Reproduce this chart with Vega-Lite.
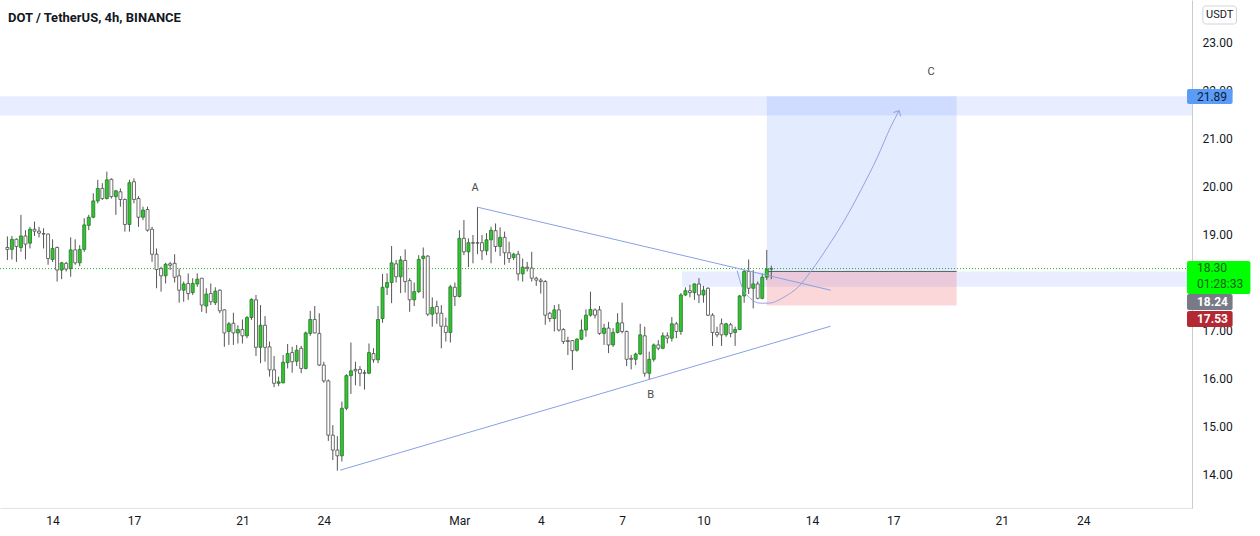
{
  "$schema": "https://vega.github.io/schema/vega-lite/v6.json",
  "width": 1192,
  "height": 508,
  "autosize": {"type": "none"},
  "padding": {"left": 0, "top": 0, "right": 68, "bottom": 28},
  "background": "white",
  "title": {"text": "DOT / TetherUS, 4h, BINANCE", "anchor": "start", "frame": "group", "orient": "top", "offset": -17, "baseline": "middle", "dx": 8, "dy": 14, "fontSize": 13, "fontWeight": "bold", "font": "Roboto", "color": "#131722"},
  "config": {
    "view": {"stroke": null},
    "font": "Roboto",
    "axis": {"grid": false, "ticks": false, "labelFont": "Roboto", "labelFontSize": 12, "labelColor": "#131722", "titleOpacity": 0}
  },
  "encoding": {
    "x": {
      "type": "temporal",
      "scale": {"type": "utc", "domain": [{"year": 2021, "month": 2, "date": 12, "hours": 5, "minutes": 53, "utc": true}, {"year": 2021, "month": 3, "date": 27, "hours": 19, "minutes": 53, "utc": true}]},
      "axis": {
        "title": null, "orient": "bottom", "domain": true, "domainColor": "#e0e3eb", "labelPadding": 7, "labelOverlap": false, "labelFlush": false,
        "values": [
          {"year": 2021, "month": 2, "date": 14, "utc": true},
          {"year": 2021, "month": 2, "date": 17, "utc": true},
          {"year": 2021, "month": 2, "date": 21, "utc": true},
          {"year": 2021, "month": 2, "date": 24, "utc": true},
          {"year": 2021, "month": 3, "date": 1, "utc": true},
          {"year": 2021, "month": 3, "date": 4, "utc": true},
          {"year": 2021, "month": 3, "date": 7, "utc": true},
          {"year": 2021, "month": 3, "date": 10, "utc": true},
          {"year": 2021, "month": 3, "date": 14, "utc": true},
          {"year": 2021, "month": 3, "date": 17, "utc": true},
          {"year": 2021, "month": 3, "date": 21, "utc": true},
          {"year": 2021, "month": 3, "date": 24, "utc": true}
        ],
        "labelExpr": "utcdate(datum.value) == 1 ? 'Mar' : '' + utcdate(datum.value)"
      }
    },
    "y": {
      "type": "quantitative",
      "scale": {"domain": [13.3125, 23.8958], "nice": false, "zero": false},
      "axis": {"title": null, "orient": "right", "domain": true, "domainColor": "#c9cbd1", "values": [14, 15, 16, 17, 19, 20, 21, 22, 23], "format": ".2f", "labelAlign": "left", "labelPadding": 10, "labelBaseline": "middle"}
    }
  },
  "datasets": {
    "candles": [
      {"t":"2021-02-12T08:00:00Z","o":18.74,"h":18.97,"l":18.48,"c":18.70},
      {"t":"2021-02-12T12:00:00Z","o":18.70,"h":18.98,"l":18.49,"c":18.91},
      {"t":"2021-02-12T16:00:00Z","o":18.91,"h":18.93,"l":18.44,"c":18.76},
      {"t":"2021-02-12T20:00:00Z","o":18.74,"h":19.42,"l":18.65,"c":18.98},
      {"t":"2021-02-13T00:00:00Z","o":18.98,"h":19.10,"l":18.49,"c":18.81},
      {"t":"2021-02-13T04:00:00Z","o":18.83,"h":19.17,"l":18.72,"c":19.12},
      {"t":"2021-02-13T08:00:00Z","o":19.12,"h":19.28,"l":18.98,"c":19.08},
      {"t":"2021-02-13T12:00:00Z","o":19.08,"h":19.17,"l":18.95,"c":19.04},
      {"t":"2021-02-13T16:00:00Z","o":19.03,"h":19.14,"l":18.72,"c":19.02},
      {"t":"2021-02-13T20:00:00Z","o":19.02,"h":19.03,"l":18.38,"c":18.51},
      {"t":"2021-02-14T00:00:00Z","o":18.49,"h":18.91,"l":18.44,"c":18.72},
      {"t":"2021-02-14T04:00:00Z","o":18.74,"h":18.76,"l":18.03,"c":18.27},
      {"t":"2021-02-14T08:00:00Z","o":18.27,"h":18.44,"l":18.08,"c":18.42},
      {"t":"2021-02-14T12:00:00Z","o":18.41,"h":18.44,"l":18.24,"c":18.29},
      {"t":"2021-02-14T16:00:00Z","o":18.30,"h":18.95,"l":18.13,"c":18.69},
      {"t":"2021-02-14T20:00:00Z","o":18.69,"h":18.91,"l":18.38,"c":18.42},
      {"t":"2021-02-15T00:00:00Z","o":18.42,"h":18.79,"l":18.35,"c":18.70},
      {"t":"2021-02-15T04:00:00Z","o":18.70,"h":19.35,"l":18.65,"c":19.21},
      {"t":"2021-02-15T08:00:00Z","o":19.20,"h":19.42,"l":19.10,"c":19.37},
      {"t":"2021-02-15T12:00:00Z","o":19.37,"h":19.87,"l":19.35,"c":19.71},
      {"t":"2021-02-15T16:00:00Z","o":19.71,"h":20.15,"l":19.66,"c":19.97},
      {"t":"2021-02-15T20:00:00Z","o":19.97,"h":20.08,"l":19.73,"c":19.76},
      {"t":"2021-02-16T00:00:00Z","o":19.76,"h":20.32,"l":19.74,"c":20.15},
      {"t":"2021-02-16T04:00:00Z","o":20.16,"h":20.18,"l":19.76,"c":19.80},
      {"t":"2021-02-16T08:00:00Z","o":19.80,"h":19.94,"l":19.42,"c":19.92},
      {"t":"2021-02-16T12:00:00Z","o":19.90,"h":19.97,"l":19.59,"c":19.74},
      {"t":"2021-02-16T16:00:00Z","o":19.74,"h":19.76,"l":19.07,"c":19.22},
      {"t":"2021-02-16T20:00:00Z","o":19.22,"h":20.15,"l":19.07,"c":20.09},
      {"t":"2021-02-17T00:00:00Z","o":20.11,"h":20.18,"l":19.66,"c":19.74},
      {"t":"2021-02-17T04:00:00Z","o":19.76,"h":19.81,"l":19.17,"c":19.37},
      {"t":"2021-02-17T08:00:00Z","o":19.37,"h":19.59,"l":19.31,"c":19.52},
      {"t":"2021-02-17T12:00:00Z","o":19.53,"h":19.59,"l":19.07,"c":19.10},
      {"t":"2021-02-17T16:00:00Z","o":19.12,"h":19.17,"l":18.44,"c":18.60},
      {"t":"2021-02-17T20:00:00Z","o":18.60,"h":18.72,"l":17.89,"c":18.28},
      {"t":"2021-02-18T00:00:00Z","o":18.30,"h":18.34,"l":17.82,"c":18.15},
      {"t":"2021-02-18T04:00:00Z","o":18.15,"h":18.42,"l":17.99,"c":18.39},
      {"t":"2021-02-18T08:00:00Z","o":18.40,"h":18.44,"l":18.27,"c":18.37},
      {"t":"2021-02-18T12:00:00Z","o":18.41,"h":18.60,"l":18.01,"c":18.12},
      {"t":"2021-02-18T16:00:00Z","o":18.15,"h":18.30,"l":17.59,"c":17.85},
      {"t":"2021-02-18T20:00:00Z","o":17.85,"h":18.03,"l":17.61,"c":17.98},
      {"t":"2021-02-19T00:00:00Z","o":17.99,"h":18.20,"l":17.65,"c":17.78},
      {"t":"2021-02-19T04:00:00Z","o":17.80,"h":18.10,"l":17.75,"c":17.99},
      {"t":"2021-02-19T08:00:00Z","o":17.98,"h":18.20,"l":17.92,"c":18.08},
      {"t":"2021-02-19T12:00:00Z","o":18.10,"h":18.10,"l":17.40,"c":17.54},
      {"t":"2021-02-19T16:00:00Z","o":17.52,"h":17.89,"l":17.37,"c":17.77},
      {"t":"2021-02-19T20:00:00Z","o":17.78,"h":17.99,"l":17.54,"c":17.61},
      {"t":"2021-02-20T00:00:00Z","o":17.59,"h":17.91,"l":17.54,"c":17.83},
      {"t":"2021-02-20T04:00:00Z","o":17.85,"h":17.87,"l":17.37,"c":17.42},
      {"t":"2021-02-20T08:00:00Z","o":17.44,"h":17.45,"l":16.67,"c":16.96},
      {"t":"2021-02-20T12:00:00Z","o":16.99,"h":17.19,"l":16.71,"c":17.15},
      {"t":"2021-02-20T16:00:00Z","o":17.16,"h":17.38,"l":16.71,"c":16.96},
      {"t":"2021-02-20T20:00:00Z","o":16.96,"h":17.12,"l":16.74,"c":17.03},
      {"t":"2021-02-21T00:00:00Z","o":17.03,"h":17.24,"l":16.74,"c":16.90},
      {"t":"2021-02-21T04:00:00Z","o":16.90,"h":17.31,"l":16.85,"c":17.28},
      {"t":"2021-02-21T08:00:00Z","o":17.28,"h":17.68,"l":17.23,"c":17.66},
      {"t":"2021-02-21T12:00:00Z","o":17.65,"h":17.75,"l":16.48,"c":16.66},
      {"t":"2021-02-21T16:00:00Z","o":16.66,"h":17.54,"l":16.33,"c":17.12},
      {"t":"2021-02-21T20:00:00Z","o":17.12,"h":17.31,"l":16.36,"c":16.66},
      {"t":"2021-02-22T00:00:00Z","o":16.67,"h":16.78,"l":16.05,"c":16.19},
      {"t":"2021-02-22T04:00:00Z","o":16.19,"h":16.48,"l":15.83,"c":15.91},
      {"t":"2021-02-22T08:00:00Z","o":15.91,"h":16.05,"l":15.85,"c":15.94},
      {"t":"2021-02-22T12:00:00Z","o":15.92,"h":16.50,"l":15.91,"c":16.35},
      {"t":"2021-02-22T16:00:00Z","o":16.34,"h":16.73,"l":16.22,"c":16.53},
      {"t":"2021-02-22T20:00:00Z","o":16.55,"h":16.67,"l":16.13,"c":16.36},
      {"t":"2021-02-23T00:00:00Z","o":16.37,"h":16.71,"l":16.27,"c":16.60},
      {"t":"2021-02-23T04:00:00Z","o":16.64,"h":16.69,"l":16.12,"c":16.22},
      {"t":"2021-02-23T08:00:00Z","o":16.22,"h":16.99,"l":16.20,"c":16.96},
      {"t":"2021-02-23T12:00:00Z","o":16.95,"h":17.42,"l":16.90,"c":17.24},
      {"t":"2021-02-23T16:00:00Z","o":17.24,"h":17.52,"l":16.95,"c":16.96},
      {"t":"2021-02-23T20:00:00Z","o":16.95,"h":17.37,"l":16.27,"c":16.29},
      {"t":"2021-02-24T00:00:00Z","o":16.29,"h":16.36,"l":15.92,"c":15.96},
      {"t":"2021-02-24T04:00:00Z","o":15.96,"h":15.99,"l":14.71,"c":14.83},
      {"t":"2021-02-24T08:00:00Z","o":14.83,"h":15.04,"l":14.31,"c":14.52},
      {"t":"2021-02-24T12:00:00Z","o":14.52,"h":14.81,"l":14.09,"c":14.40},
      {"t":"2021-02-24T16:00:00Z","o":14.40,"h":15.53,"l":14.28,"c":15.39},
      {"t":"2021-02-24T20:00:00Z","o":15.39,"h":16.10,"l":15.35,"c":16.07},
      {"t":"2021-02-25T00:00:00Z","o":16.07,"h":16.76,"l":15.69,"c":16.17},
      {"t":"2021-02-25T04:00:00Z","o":16.20,"h":16.36,"l":15.87,"c":16.17},
      {"t":"2021-02-25T08:00:00Z","o":16.20,"h":16.27,"l":15.85,"c":16.12},
      {"t":"2021-02-25T12:00:00Z","o":16.13,"h":16.19,"l":15.78,"c":16.12},
      {"t":"2021-02-25T16:00:00Z","o":16.12,"h":16.74,"l":16.10,"c":16.55},
      {"t":"2021-02-25T20:00:00Z","o":16.53,"h":16.64,"l":16.34,"c":16.40},
      {"t":"2021-02-26T00:00:00Z","o":16.40,"h":17.52,"l":16.33,"c":17.24},
      {"t":"2021-02-26T04:00:00Z","o":17.26,"h":18.19,"l":17.17,"c":17.91},
      {"t":"2021-02-26T08:00:00Z","o":17.91,"h":18.20,"l":17.75,"c":18.01},
      {"t":"2021-02-26T12:00:00Z","o":18.01,"h":18.77,"l":17.58,"c":18.42},
      {"t":"2021-02-26T16:00:00Z","o":18.40,"h":18.48,"l":18.01,"c":18.13},
      {"t":"2021-02-26T20:00:00Z","o":18.13,"h":18.56,"l":17.79,"c":18.48},
      {"t":"2021-02-27T00:00:00Z","o":18.47,"h":18.70,"l":17.80,"c":18.03},
      {"t":"2021-02-27T04:00:00Z","o":18.05,"h":18.10,"l":17.40,"c":17.65},
      {"t":"2021-02-27T08:00:00Z","o":17.65,"h":18.01,"l":17.52,"c":17.82},
      {"t":"2021-02-27T12:00:00Z","o":17.82,"h":18.58,"l":17.79,"c":18.49},
      {"t":"2021-02-27T16:00:00Z","o":18.51,"h":18.74,"l":17.68,"c":18.56},
      {"t":"2021-02-27T20:00:00Z","o":18.56,"h":18.58,"l":17.31,"c":17.35},
      {"t":"2021-02-28T00:00:00Z","o":17.35,"h":17.70,"l":17.09,"c":17.49},
      {"t":"2021-02-28T04:00:00Z","o":17.51,"h":17.63,"l":17.15,"c":17.37},
      {"t":"2021-02-28T08:00:00Z","o":17.37,"h":17.54,"l":16.64,"c":17.10},
      {"t":"2021-02-28T12:00:00Z","o":17.10,"h":17.28,"l":16.78,"c":16.97},
      {"t":"2021-02-28T16:00:00Z","o":16.97,"h":17.96,"l":16.76,"c":17.92},
      {"t":"2021-02-28T20:00:00Z","o":17.91,"h":18.01,"l":17.52,"c":17.72},
      {"t":"2021-03-01T00:00:00Z","o":17.72,"h":19.10,"l":17.70,"c":18.93},
      {"t":"2021-03-01T04:00:00Z","o":18.93,"h":19.31,"l":18.58,"c":18.65},
      {"t":"2021-03-01T08:00:00Z","o":18.65,"h":18.93,"l":18.33,"c":18.84},
      {"t":"2021-03-01T12:00:00Z","o":18.84,"h":19.00,"l":18.41,"c":18.83},
      {"t":"2021-03-01T16:00:00Z","o":18.84,"h":19.58,"l":18.60,"c":18.83},
      {"t":"2021-03-01T20:00:00Z","o":18.84,"h":19.00,"l":18.48,"c":18.67},
      {"t":"2021-03-02T00:00:00Z","o":18.67,"h":19.04,"l":18.58,"c":18.90},
      {"t":"2021-03-02T04:00:00Z","o":18.90,"h":19.17,"l":18.41,"c":19.10},
      {"t":"2021-03-02T08:00:00Z","o":19.09,"h":19.24,"l":18.65,"c":18.76},
      {"t":"2021-03-02T12:00:00Z","o":18.76,"h":19.16,"l":18.56,"c":18.95},
      {"t":"2021-03-02T16:00:00Z","o":18.95,"h":19.07,"l":18.38,"c":18.63},
      {"t":"2021-03-02T20:00:00Z","o":18.63,"h":18.86,"l":18.42,"c":18.51},
      {"t":"2021-03-03T00:00:00Z","o":18.53,"h":18.63,"l":18.48,"c":18.60},
      {"t":"2021-03-03T04:00:00Z","o":18.60,"h":18.67,"l":18.05,"c":18.19},
      {"t":"2021-03-03T08:00:00Z","o":18.19,"h":18.51,"l":18.03,"c":18.33},
      {"t":"2021-03-03T12:00:00Z","o":18.33,"h":18.44,"l":18.24,"c":18.31},
      {"t":"2021-03-03T16:00:00Z","o":18.31,"h":18.65,"l":18.03,"c":18.10},
      {"t":"2021-03-03T20:00:00Z","o":18.10,"h":18.13,"l":17.94,"c":18.06},
      {"t":"2021-03-04T00:00:00Z","o":18.06,"h":18.10,"l":17.78,"c":18.03},
      {"t":"2021-03-04T04:00:00Z","o":18.03,"h":18.06,"l":17.13,"c":17.33},
      {"t":"2021-03-04T08:00:00Z","o":17.37,"h":17.40,"l":17.19,"c":17.26},
      {"t":"2021-03-04T12:00:00Z","o":17.26,"h":17.54,"l":16.99,"c":17.44},
      {"t":"2021-03-04T16:00:00Z","o":17.44,"h":17.56,"l":16.99,"c":17.02},
      {"t":"2021-03-04T20:00:00Z","o":17.03,"h":17.06,"l":16.73,"c":16.78},
      {"t":"2021-03-05T00:00:00Z","o":16.80,"h":16.88,"l":16.50,"c":16.78},
      {"t":"2021-03-05T04:00:00Z","o":16.80,"h":16.81,"l":16.19,"c":16.59},
      {"t":"2021-03-05T08:00:00Z","o":16.60,"h":16.85,"l":16.57,"c":16.83},
      {"t":"2021-03-05T12:00:00Z","o":16.83,"h":17.24,"l":16.81,"c":17.02},
      {"t":"2021-03-05T16:00:00Z","o":17.02,"h":17.45,"l":16.88,"c":17.33},
      {"t":"2021-03-05T20:00:00Z","o":17.33,"h":17.82,"l":17.30,"c":17.45},
      {"t":"2021-03-06T00:00:00Z","o":17.44,"h":17.47,"l":17.26,"c":17.33},
      {"t":"2021-03-06T04:00:00Z","o":17.44,"h":17.52,"l":16.92,"c":16.95},
      {"t":"2021-03-06T08:00:00Z","o":16.95,"h":17.15,"l":16.71,"c":17.06},
      {"t":"2021-03-06T12:00:00Z","o":17.06,"h":17.19,"l":16.54,"c":16.71},
      {"t":"2021-03-06T16:00:00Z","o":16.71,"h":17.06,"l":16.67,"c":16.97},
      {"t":"2021-03-06T20:00:00Z","o":16.97,"h":17.37,"l":16.95,"c":17.17},
      {"t":"2021-03-07T00:00:00Z","o":17.17,"h":17.59,"l":16.95,"c":16.99},
      {"t":"2021-03-07T04:00:00Z","o":16.99,"h":17.01,"l":16.27,"c":16.41},
      {"t":"2021-03-07T08:00:00Z","o":16.43,"h":16.50,"l":16.20,"c":16.41},
      {"t":"2021-03-07T12:00:00Z","o":16.41,"h":16.55,"l":16.29,"c":16.52},
      {"t":"2021-03-07T16:00:00Z","o":16.52,"h":17.15,"l":16.50,"c":16.92},
      {"t":"2021-03-07T20:00:00Z","o":16.90,"h":17.09,"l":16.05,"c":16.12},
      {"t":"2021-03-08T00:00:00Z","o":16.12,"h":16.57,"l":15.98,"c":16.41},
      {"t":"2021-03-08T04:00:00Z","o":16.41,"h":16.74,"l":16.36,"c":16.71},
      {"t":"2021-03-08T08:00:00Z","o":16.71,"h":16.81,"l":16.60,"c":16.64},
      {"t":"2021-03-08T12:00:00Z","o":16.64,"h":16.97,"l":16.62,"c":16.90},
      {"t":"2021-03-08T16:00:00Z","o":16.90,"h":16.97,"l":16.74,"c":16.85},
      {"t":"2021-03-08T20:00:00Z","o":16.85,"h":17.29,"l":16.78,"c":17.15},
      {"t":"2021-03-09T00:00:00Z","o":17.15,"h":17.19,"l":16.85,"c":16.99},
      {"t":"2021-03-09T04:00:00Z","o":16.99,"h":17.79,"l":16.92,"c":17.75},
      {"t":"2021-03-09T08:00:00Z","o":17.75,"h":17.91,"l":17.73,"c":17.84},
      {"t":"2021-03-09T12:00:00Z","o":17.84,"h":17.96,"l":17.70,"c":17.80},
      {"t":"2021-03-09T16:00:00Z","o":17.80,"h":17.99,"l":17.65,"c":17.98},
      {"t":"2021-03-09T20:00:00Z","o":17.98,"h":18.10,"l":17.58,"c":17.75},
      {"t":"2021-03-10T00:00:00Z","o":17.75,"h":17.94,"l":17.59,"c":17.85},
      {"t":"2021-03-10T04:00:00Z","o":17.89,"h":17.91,"l":17.31,"c":17.33},
      {"t":"2021-03-10T08:00:00Z","o":17.33,"h":17.37,"l":16.69,"c":16.97},
      {"t":"2021-03-10T12:00:00Z","o":16.97,"h":17.09,"l":16.87,"c":16.92},
      {"t":"2021-03-10T16:00:00Z","o":17.15,"h":17.26,"l":16.69,"c":16.92},
      {"t":"2021-03-10T20:00:00Z","o":16.92,"h":17.17,"l":16.88,"c":17.15},
      {"t":"2021-03-11T00:00:00Z","o":17.13,"h":17.17,"l":16.87,"c":16.95},
      {"t":"2021-03-11T04:00:00Z","o":16.97,"h":17.09,"l":16.69,"c":17.03},
      {"t":"2021-03-11T08:00:00Z","o":17.03,"h":17.75,"l":17.02,"c":17.73},
      {"t":"2021-03-11T12:00:00Z","o":17.73,"h":18.27,"l":17.59,"c":18.24},
      {"t":"2021-03-11T16:00:00Z","o":18.24,"h":18.49,"l":17.77,"c":17.89},
      {"t":"2021-03-11T20:00:00Z","o":17.89,"h":18.27,"l":17.47,"c":17.98},
      {"t":"2021-03-12T00:00:00Z","o":17.98,"h":18.03,"l":17.66,"c":17.68},
      {"t":"2021-03-12T04:00:00Z","o":17.68,"h":18.20,"l":17.66,"c":18.12},
      {"t":"2021-03-12T08:00:00Z","o":18.12,"h":18.69,"l":18.06,"c":18.29},
      {"t":"2021-03-12T12:00:00Z","o":18.29,"h":18.36,"l":18.08,"c":18.30}
    ],
    "trend": [
      {"id":"upper","t":"2021-03-01T16:00:00Z","p":19.58},
      {"id":"upper","t":"2021-03-14T16:30:00Z","p":17.85},
      {"id":"lower","t":"2021-02-24T14:24:00Z","p":14.10},
      {"id":"lower","t":"2021-03-14T16:30:00Z","p":17.10}
    ],
    "curve": [
      {"t":"2021-03-11T05:45:00Z","p":18.26},
      {"t":"2021-03-11T10:05:00Z","p":17.92},
      {"t":"2021-03-11T17:30:00Z","p":17.68},
      {"t":"2021-03-12T02:10:00Z","p":17.58},
      {"t":"2021-03-12T09:36:00Z","p":17.58},
      {"t":"2021-03-13T00:15:00Z","p":17.72},
      {"t":"2021-03-13T12:00:00Z","p":17.92},
      {"t":"2021-03-13T23:35:00Z","p":18.26},
      {"t":"2021-03-14T14:10:00Z","p":18.76},
      {"t":"2021-03-15T04:50:00Z","p":19.31},
      {"t":"2021-03-15T19:25:00Z","p":19.94},
      {"t":"2021-03-16T10:05:00Z","p":20.63},
      {"t":"2021-03-16T21:50:00Z","p":21.26},
      {"t":"2021-03-17T05:05:00Z","p":21.59}
    ],
    "points": [
      {"t":"2021-03-01T13:50:00Z","p":19.98,"label":"A"},
      {"t":"2021-03-08T01:10:00Z","p":15.67,"label":"B"},
      {"t":"2021-03-18T09:29:00Z","p":22.40,"label":"C"}
    ]
  },
  "layer": [
    {
      "data": {"values": [{}]},
      "mark": {"type": "rect", "fill": "#2962ff", "opacity": 0.11},
      "encoding": {
        "y": {"datum": 21.49},
        "y2": {"datum": 21.89}
      }
    },
    {
      "data": {"values": [{}]},
      "mark": {"type": "rect", "fill": "#2962ff", "opacity": 0.11},
      "encoding": {
        "x": {"datum": {"year": 2021, "month": 3, "date": 9, "hours": 5, "utc": true}},
        "x2": {"datum": {"year": 2021, "month": 3, "date": 27, "hours": 19, "minutes": 53, "utc": true}},
        "y": {"datum": 17.92},
        "y2": {"datum": 18.24}
      }
    },
    {
      "data": {"values": [{}]},
      "mark": {"type": "rect", "fill": "#2962ff", "opacity": 0.13},
      "encoding": {
        "x": {"datum": {"year": 2021, "month": 3, "date": 12, "hours": 8, "utc": true}},
        "x2": {"datum": {"year": 2021, "month": 3, "date": 19, "hours": 8, "utc": true}},
        "y": {"datum": 18.24},
        "y2": {"datum": 21.89}
      }
    },
    {
      "data": {"values": [{}]},
      "mark": {"type": "rect", "fill": "#f23645", "opacity": 0.2},
      "encoding": {
        "x": {"datum": {"year": 2021, "month": 3, "date": 12, "hours": 8, "utc": true}},
        "x2": {"datum": {"year": 2021, "month": 3, "date": 19, "hours": 8, "utc": true}},
        "y": {"datum": 17.53},
        "y2": {"datum": 18.24}
      }
    },
    {
      "data": {"values": [{}]},
      "mark": {"type": "rule", "color": "#5d606b", "strokeWidth": 1},
      "encoding": {
        "x": {"datum": {"year": 2021, "month": 3, "date": 12, "hours": 8, "utc": true}},
        "x2": {"datum": {"year": 2021, "month": 3, "date": 19, "hours": 8, "utc": true}},
        "y": {"datum": 18.24}
      }
    },
    {
      "data": {"values": [{}]},
      "mark": {"type": "rule", "color": "#22ab22", "strokeWidth": 1, "strokeDash": [1, 2]},
      "encoding": {
        "y": {"datum": 18.30}
      }
    },
    {
      "data": {"name": "candles"},
      "mark": {"type": "rule", "color": "#555555", "strokeWidth": 1},
      "encoding": {
        "x": {"field": "t"},
        "y": {"field": "l"},
        "y2": {"field": "h"}
      }
    },
    {
      "data": {"name": "candles"},
      "mark": {"type": "bar", "width": 3, "strokeWidth": 0.8},
      "encoding": {
        "x": {"field": "t"},
        "y": {"field": "o"},
        "y2": {"field": "c"},
        "fill": {"condition": {"test": "datum.c > datum.o", "value": "#33c333"}, "value": "#ffffff"},
        "stroke": {"condition": {"test": "datum.c > datum.o", "value": "#237a23"}, "value": "#4a4a4a"}
      }
    },
    {
      "data": {"name": "trend"},
      "mark": {"type": "line", "color": "#86a2e4", "strokeWidth": 1},
      "encoding": {
        "x": {"field": "t"},
        "y": {"field": "p"},
        "detail": {"field": "id"}
      }
    },
    {
      "data": {"name": "curve"},
      "mark": {"type": "line", "color": "#93a3e0", "strokeWidth": 1, "interpolate": "monotone"},
      "encoding": {
        "x": {"field": "t"},
        "y": {"field": "p"}
      }
    },
    {
      "data": {"values": [{}]},
      "mark": {"type": "point", "shape": "M-1,1L0,0L1,1", "filled": false, "stroke": "#93a3e0", "strokeWidth": 1, "size": 70, "angle": 28, "opacity": 1},
      "encoding": {
        "x": {"datum": {"year": 2021, "month": 3, "date": 17, "hours": 5, "minutes": 5, "utc": true}},
        "y": {"datum": 21.59}
      }
    },
    {
      "data": {"name": "points"},
      "mark": {"type": "text", "fontSize": 11, "color": "#4a4a4a", "baseline": "middle", "align": "center"},
      "encoding": {
        "x": {"field": "t"},
        "y": {"field": "p"},
        "text": {"field": "label"}
      }
    },
    {
      "data": {"values": [{}]},
      "mark": {"type": "rect", "fill": "#5b9cf6", "cornerRadius": 2},
      "encoding": {
        "x": {"datum": {"year": 2021, "month": 3, "date": 27, "hours": 19, "minutes": 53, "utc": true}},
        "x2": {"datum": {"year": 2021, "month": 3, "date": 29, "hours": 12, "minutes": 14, "utc": true}},
        "y": {"datum": 21.729},
        "y2": {"datum": 22.042}
      }
    },
    {
      "data": {"values": [{}]},
      "mark": {"type": "text", "text": "21.89", "fontSize": 12, "color": "#0d1b3a", "align": "left", "baseline": "middle"},
      "encoding": {
        "x": {"datum": {"year": 2021, "month": 3, "date": 28, "hours": 4, "minutes": 39, "utc": true}},
        "y": {"datum": 21.885}
      }
    },
    {
      "data": {"values": [{}]},
      "mark": {"type": "rect", "fill": "#00ff00", "cornerRadius": 2},
      "encoding": {
        "x": {"datum": {"year": 2021, "month": 3, "date": 27, "hours": 19, "minutes": 53, "utc": true}},
        "x2": {"datum": {"year": 2021, "month": 3, "date": 30, "hours": 4, "minutes": 1, "utc": true}},
        "y": {"datum": 17.771},
        "y2": {"datum": 18.458}
      }
    },
    {
      "data": {"values": [{}]},
      "mark": {"type": "text", "text": "18.30", "fontSize": 12, "color": "#136313", "align": "left", "baseline": "middle"},
      "encoding": {
        "x": {"datum": {"year": 2021, "month": 3, "date": 28, "hours": 4, "minutes": 39, "utc": true}},
        "y": {"datum": 18.3125}
      }
    },
    {
      "data": {"values": [{}]},
      "mark": {"type": "text", "text": "01:28:33", "fontSize": 12, "color": "#136313", "align": "left", "baseline": "middle"},
      "encoding": {
        "x": {"datum": {"year": 2021, "month": 3, "date": 28, "hours": 4, "minutes": 39, "utc": true}},
        "y": {"datum": 17.979}
      }
    },
    {
      "data": {"values": [{}]},
      "mark": {"type": "rect", "fill": "#787b86", "cornerRadius": 2},
      "encoding": {
        "x": {"datum": {"year": 2021, "month": 3, "date": 27, "hours": 19, "minutes": 53, "utc": true}},
        "x2": {"datum": {"year": 2021, "month": 3, "date": 29, "hours": 12, "minutes": 14, "utc": true}},
        "y": {"datum": 17.4375},
        "y2": {"datum": 17.771}
      }
    },
    {
      "data": {"values": [{}]},
      "mark": {"type": "text", "text": "18.24", "fontSize": 12, "fontWeight": "bold", "color": "#ffffff", "align": "left", "baseline": "middle"},
      "encoding": {
        "x": {"datum": {"year": 2021, "month": 3, "date": 28, "hours": 4, "minutes": 39, "utc": true}},
        "y": {"datum": 17.604}
      }
    },
    {
      "data": {"values": [{}]},
      "mark": {"type": "rect", "fill": "#b22833", "cornerRadius": 2},
      "encoding": {
        "x": {"datum": {"year": 2021, "month": 3, "date": 27, "hours": 19, "minutes": 53, "utc": true}},
        "x2": {"datum": {"year": 2021, "month": 3, "date": 29, "hours": 12, "minutes": 14, "utc": true}},
        "y": {"datum": 17.083},
        "y2": {"datum": 17.417}
      }
    },
    {
      "data": {"values": [{}]},
      "mark": {"type": "text", "text": "17.53", "fontSize": 12, "fontWeight": "bold", "color": "#ffffff", "align": "left", "baseline": "middle"},
      "encoding": {
        "x": {"datum": {"year": 2021, "month": 3, "date": 28, "hours": 4, "minutes": 39, "utc": true}},
        "y": {"datum": 17.25}
      }
    },
    {
      "data": {"values": [{}]},
      "mark": {"type": "rect", "fill": "#ffffff", "stroke": "#d1d4dc", "strokeWidth": 1, "cornerRadius": 3},
      "encoding": {
        "x": {"datum": {"year": 2021, "month": 3, "date": 28, "hours": 9, "minutes": 55, "utc": true}},
        "x2": {"datum": {"year": 2021, "month": 3, "date": 29, "hours": 15, "minutes": 45, "utc": true}},
        "y": {"datum": 23.396},
        "y2": {"datum": 23.771}
      }
    },
    {
      "data": {"values": [{}]},
      "mark": {"type": "text", "text": "USDT", "fontSize": 11, "color": "#131722", "align": "center", "baseline": "middle"},
      "encoding": {
        "x": {"datum": {"year": 2021, "month": 3, "date": 29, "hours": 0, "minutes": 50, "utc": true}},
        "y": {"datum": 23.583}
      }
    }
  ]
}
